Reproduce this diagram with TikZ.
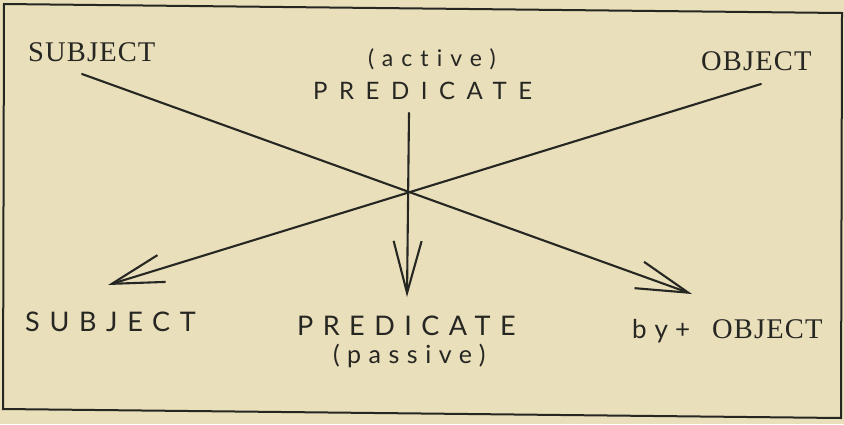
\documentclass[tikz,border=0pt]{standalone}
\usepackage{fontspec}
\setmainfont{Liberation Serif}
\newfontfamily\serifsp[LetterSpace=4]{Liberation Serif}
\newfontfamily\lato[Ligatures=NoCommon]{Lato}
\newcommand\spc[2]{\lato\fontsize{#1bp}{#1bp}\selectfont\addfontfeature{LetterSpace=#2}}
\usetikzlibrary{arrows.meta}
\definecolor{paper}{RGB}{233,223,187}
\definecolor{ink}{RGB}{38,38,34}
\begin{document}
\begin{tikzpicture}[x=1bp,y=-1bp,
  lbl/.style={inner sep=0pt,text=ink,anchor=base west},
  ln/.style={draw=ink,line width=2.1bp,line cap=round,line join=round},
  arr/.style={ln,-{Straight Barb[length=52bp,width=28bp,line width=2.1bp]}}]
\useasboundingbox (0,0) rectangle (844,424);
\fill[paper] (0,0) rectangle (844,424);
\draw[ink,line width=2bp] (4,4) -- (842,13) -- (841,418) -- (3,409) -- cycle;
% labels
\node[lbl,font=\serifsp\fontsize{28.5bp}{30bp}\selectfont] (subjA) at (28,61) {SUBJECT};
\node[lbl,font=\serifsp\fontsize{28.5bp}{30bp}\selectfont] (objA) at (701,70) {OBJECT};
\node[lbl,font=\spc{23}{35}] (act) at (368,66) {(active)};
\node[lbl,font=\spc{24}{48}] (predA) at (313,99) {PREDICATE};
\node[lbl,font=\spc{27}{36}] (subjP) at (25,331) {SUBJECT};
\node[lbl,font=\spc{27}{35}] (predP) at (297,335) {PREDICATE};
\node[lbl,font=\spc{25}{30}] (pas) at (333,363) {(passive)};
\node[lbl,font=\lato\fontsize{26bp}{30bp}\selectfont] (by) at (632,338) {b\kern8bp y\kern7bp+};
\node[lbl,font=\serifsp\fontsize{28.5bp}{30bp}\selectfont] (objP) at (712,338) {OBJECT};
% line ends
\coordinate (s1) at (82,74);
\coordinate (e1) at (692,294);
\coordinate (s2) at (761,84);
\coordinate (e2) at (108,285);
\coordinate (s3) at (409,113);
\coordinate (e3) at (407,297);
\draw[arr] (s1) -- (e1);
\draw[arr] (s2) -- (e2);
\draw[arr] (s3) -- (e3);
\end{tikzpicture}
\end{document}
